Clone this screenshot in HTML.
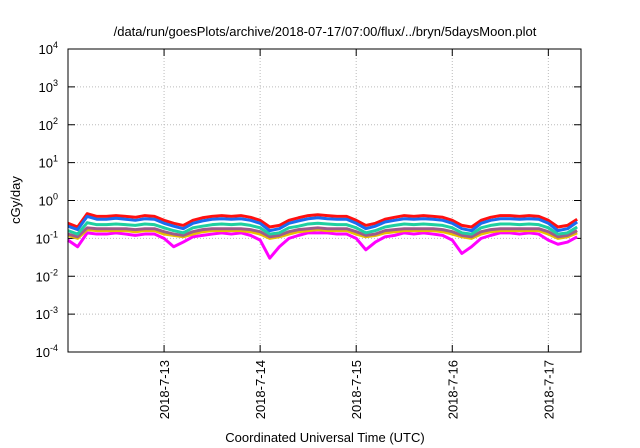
<!DOCTYPE html>
<html><head><meta charset="utf-8"><style>
body{margin:0;background:#fff}
svg{display:block;font-family:"Liberation Sans",sans-serif}
</style></head><body>
<svg id="c" width="640" height="448"></svg>
<script>
const tickDays=[1,2,3,4,5];
const tickLabels=["2018-7-13","2018-7-14","2018-7-15","2018-7-16","2018-7-17"];
const yExps=[-4,-3,-2,-1,0,1,2,3,4];
const red=[0.25,0.2,0.45,0.38,0.38,0.4,0.38,0.36,0.4,0.38,0.3,0.25,0.22,0.3,0.35,0.38,0.4,0.38,0.4,0.36,0.3,0.2,0.22,0.3,0.35,0.4,0.42,0.4,0.38,0.38,0.3,0.22,0.25,0.32,0.36,0.4,0.38,0.4,0.38,0.36,0.3,0.22,0.2,0.3,0.36,0.4,0.4,0.38,0.4,0.38,0.3,0.2,0.22,0.32];
const blue=[0.21,0.17,0.38,0.32,0.32,0.34,0.32,0.3,0.33,0.32,0.25,0.21,0.18,0.25,0.29,0.32,0.33,0.32,0.33,0.3,0.25,0.16,0.18,0.25,0.29,0.33,0.35,0.33,0.32,0.32,0.25,0.18,0.21,0.27,0.3,0.33,0.32,0.33,0.32,0.3,0.25,0.18,0.16,0.25,0.3,0.33,0.33,0.32,0.33,0.32,0.25,0.16,0.18,0.27];
const teal=[0.16,0.13,0.26,0.23,0.23,0.24,0.23,0.22,0.24,0.23,0.19,0.16,0.14,0.19,0.21,0.23,0.24,0.23,0.24,0.22,0.19,0.13,0.14,0.19,0.21,0.24,0.25,0.24,0.23,0.23,0.19,0.14,0.16,0.2,0.22,0.24,0.23,0.24,0.23,0.22,0.19,0.14,0.13,0.19,0.22,0.24,0.24,0.23,0.24,0.23,0.19,0.13,0.14,0.2];
const purple=[0.13,0.11,0.19,0.18,0.18,0.18,0.18,0.17,0.18,0.18,0.15,0.13,0.12,0.15,0.17,0.18,0.18,0.18,0.18,0.17,0.15,0.11,0.12,0.15,0.17,0.18,0.19,0.18,0.18,0.18,0.15,0.12,0.13,0.16,0.17,0.18,0.18,0.18,0.18,0.17,0.15,0.12,0.11,0.15,0.17,0.18,0.18,0.18,0.18,0.18,0.15,0.11,0.12,0.16];
const yellow=[0.12,0.1,0.17,0.16,0.16,0.16,0.16,0.15,0.16,0.16,0.13,0.12,0.11,0.13,0.15,0.16,0.16,0.16,0.16,0.15,0.13,0.1,0.11,0.13,0.15,0.16,0.17,0.16,0.16,0.16,0.13,0.11,0.12,0.14,0.15,0.16,0.16,0.16,0.16,0.15,0.13,0.11,0.1,0.13,0.15,0.16,0.16,0.16,0.16,0.16,0.13,0.1,0.11,0.14];
const magenta=[0.09,0.06,0.14,0.13,0.13,0.14,0.13,0.12,0.13,0.13,0.1,0.06,0.08,0.11,0.12,0.13,0.14,0.13,0.14,0.12,0.09,0.03,0.06,0.1,0.12,0.14,0.14,0.14,0.13,0.13,0.1,0.05,0.08,0.11,0.12,0.14,0.13,0.14,0.13,0.12,0.09,0.04,0.06,0.1,0.12,0.14,0.14,0.13,0.14,0.13,0.09,0.07,0.08,0.11];
const seriesList=[[magenta,"#ff00ff","magenta"],[yellow,"#e8c000","yellow"],[purple,"#a05a8a","purple"],[teal,"#20d0a0","teal"],[red,"#ff1010","red"],[blue,"#1a6cf0","blue"]];
const X0=68,X1=581,Y0=352,Y1=49,dMax=5.34;
const sx=d=>X0+(X1-X0)*d/dMax;
const sy=v=>Y0-(Y0-Y1)*(Math.log10(v)+4)/8;
const svg=document.getElementById('c');const NS="http://www.w3.org/2000/svg";
function mk(t,a,p){const e=document.createElementNS(NS,t);for(const k in a)e.setAttribute(k,a[k]);(p||svg).appendChild(e);return e;}
let t=mk('text',{x:325,y:36,'text-anchor':'middle','font-size':13});t.textContent="/data/run/goesPlots/archive/2018-07-17/07:00/flux/../bryn/5daysMoon.plot";


yExps.forEach(e=>{const y=sy(Math.pow(10,e));
 if(e>-4&&e<4){const g=mk('line',{x1:X0,x2:X1,y1:y,y2:y,stroke:'#bbb','stroke-dasharray':'1,2'});
 
 }
 mk('line',{x1:X0,x2:X0+7,y1:y,y2:y,stroke:'#000'});mk('line',{x1:X1,x2:X1-7,y1:y,y2:y,stroke:'#000'});
 const l=mk('text',{x:58,y:y+5,'text-anchor':'end','font-size':13});
 
 
 mk('tspan',{},l).textContent="10";const s=mk('tspan',{dy:-6,'font-size':9},l);s.textContent=e;});
tickDays.forEach((d,i)=>{const x=sx(d);
 const g=mk('line',{x1:x,x2:x,y1:Y1,y2:Y0,stroke:'#bbb','stroke-dasharray':'1,2'});
 
 
 mk('line',{x1:x,x2:x,y1:Y0,y2:Y0-7,stroke:'#000'});mk('line',{x1:x,x2:x,y1:Y1,y2:Y1+7,stroke:'#000'});
 const l=mk('text',{x:0,y:0,'text-anchor':'end','font-size':13,transform:`translate(${x+5},360) rotate(-90)`});l.textContent=tickLabels[i];
 
 });
seriesList.forEach(([arr,col,nm])=>{const pts=arr.map((v,i)=>sx(i*0.1)+','+sy(v)).join(' ');
 const p=mk('polyline',{points:pts,fill:'none',stroke:col,'stroke-width':3,'stroke-linejoin':'round'});
 
 });
const b=mk('rect',{x:X0,y:Y1,width:X1-X0,height:Y0-Y1,fill:'none',stroke:'#000'});


t=mk('text',{x:0,y:0,'text-anchor':'middle','font-size':13,transform:'translate(20,200) rotate(-90)'});t.textContent="cGy/day";


t=mk('text',{x:325,y:442,'text-anchor':'middle','font-size':13});t.textContent="Coordinated Universal Time (UTC)";


</script>
</body></html>
